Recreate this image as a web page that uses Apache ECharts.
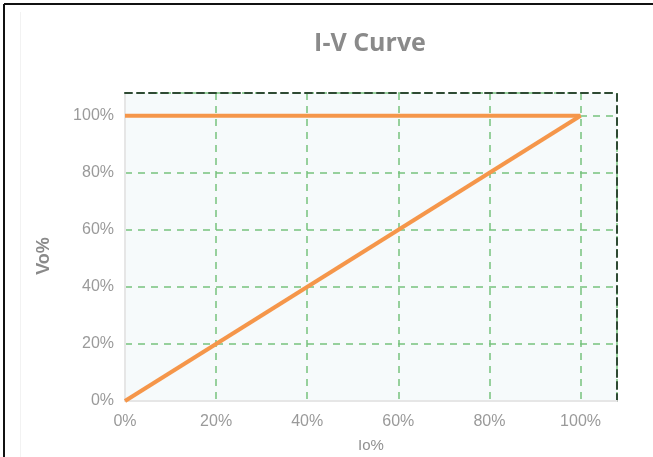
<!DOCTYPE html>
<html>
<head>
<meta charset="utf-8">
<script src="https://cdn.jsdelivr.net/npm/echarts@6/dist/echarts.min.js"></script>
<style>
html,body{margin:0;padding:0;background:#fff;}
#c{width:653px;height:457px;}
</style>
</head>
<body>
<div id="c"></div>
<script>
const titleText = 'I-V Curve';
const xName = 'Io%';
const yName = 'Vo%';
const xTicks = [0, 20, 40, 60, 80, 100];
const yTicks = [0, 20, 40, 60, 80, 100];
const flatIo = [0, 100];
const flatVo = [100, 100];
const rampIo = [0, 100];
const rampVo = [0, 100];

const chart = echarts.init(document.getElementById('c'));
const tickSet = v => xTicks.indexOf(Math.round(v)) >= 0;
const fmt = v => (tickSet(v) ? Math.round(v) + '%' : '');
chart.setOption({
  animation: false,
  title: {
    text: titleText, left: 365, textAlign: 'center', top: 26,
    textStyle: {fontFamily: 'Open Sans', fontSize: 25, fontWeight: 'bold', color: '#8a8a8a'}
  },
  graphic: [
    {type: 'line', shape: {x1: 4, y1: 4, x2: 653, y2: 4}, style: {stroke: '#111', lineWidth: 2}},
    {type: 'line', shape: {x1: 4, y1: 4, x2: 4, y2: 457}, style: {stroke: '#111', lineWidth: 2}},
    {type: 'line', shape: {x1: 20.5, y1: 12, x2: 20.5, y2: 457}, style: {stroke: '#f2f2f2', lineWidth: 1}}
  ],
  grid: {left: 125, right: 36, top: 93, bottom: 56, show: true, backgroundColor: '#f6fafb', borderWidth: 0, outerBoundsMode: 'none', containLabel: false},
  xAxis: [{
    type: 'value', min: 0, max: 108, interval: 20,
    name: xName, nameLocation: 'middle', nameGap: 37,
    nameTextStyle: {fontFamily: 'Liberation Sans', fontSize: 15, color: '#909090'},
    axisLine: {show: true, onZero: false, lineStyle: {color: '#e6e6e6', width: 2}},
    axisTick: {show: false},
    axisLabel: {formatter: fmt, fontFamily: 'Liberation Sans', fontSize: 16, color: '#9a9a9a', margin: 13},
    splitLine: {show: true, lineStyle: {color: '#77c27e', type: [7, 6], width: 1.5}}
  }, {
    type: 'value', min: 0, max: 108, interval: 20, position: 'top',
    axisLine: {show: true, onZero: false, lineStyle: {color: '#2e4a33', type: [7, 5], width: 2}},
    axisTick: {show: false}, axisLabel: {show: false}, splitLine: {show: false}
  }],
  yAxis: [{
    type: 'value', min: 0, max: 108, interval: 20,
    name: yName, nameLocation: 'middle', nameGap: 72, nameRotate: 90,
    nameTextStyle: {fontFamily: 'Liberation Sans', fontSize: 18, fontWeight: 'bold', color: '#8a8a8a', padding: [0, 18, 0, 0]},
    axisLine: {show: true, onZero: false, lineStyle: {color: '#e6e6e6', width: 2}},
    axisTick: {show: false},
    axisLabel: {formatter: fmt, fontFamily: 'Liberation Sans', fontSize: 16, color: '#9a9a9a', margin: 11},
    splitLine: {show: true, lineStyle: {color: '#77c27e', type: [7, 6], width: 1.5}}
  }, {
    type: 'value', min: 0, max: 108, interval: 20, position: 'right',
    axisLine: {show: true, onZero: false, lineStyle: {color: '#2e4a33', type: [7, 5], width: 2}},
    axisTick: {show: false}, axisLabel: {show: false}, splitLine: {show: false}
  }],
  series: [{
    type: 'line', symbol: 'none',
    data: flatIo.map((x, i) => [x, flatVo[i]]),
    lineStyle: {color: '#f5964a', width: 4}
  }, {
    type: 'line', symbol: 'none',
    data: rampIo.map((x, i) => [x, rampVo[i]]),
    lineStyle: {color: '#f5964a', width: 4}
  }]
});
</script>
</body>
</html>
